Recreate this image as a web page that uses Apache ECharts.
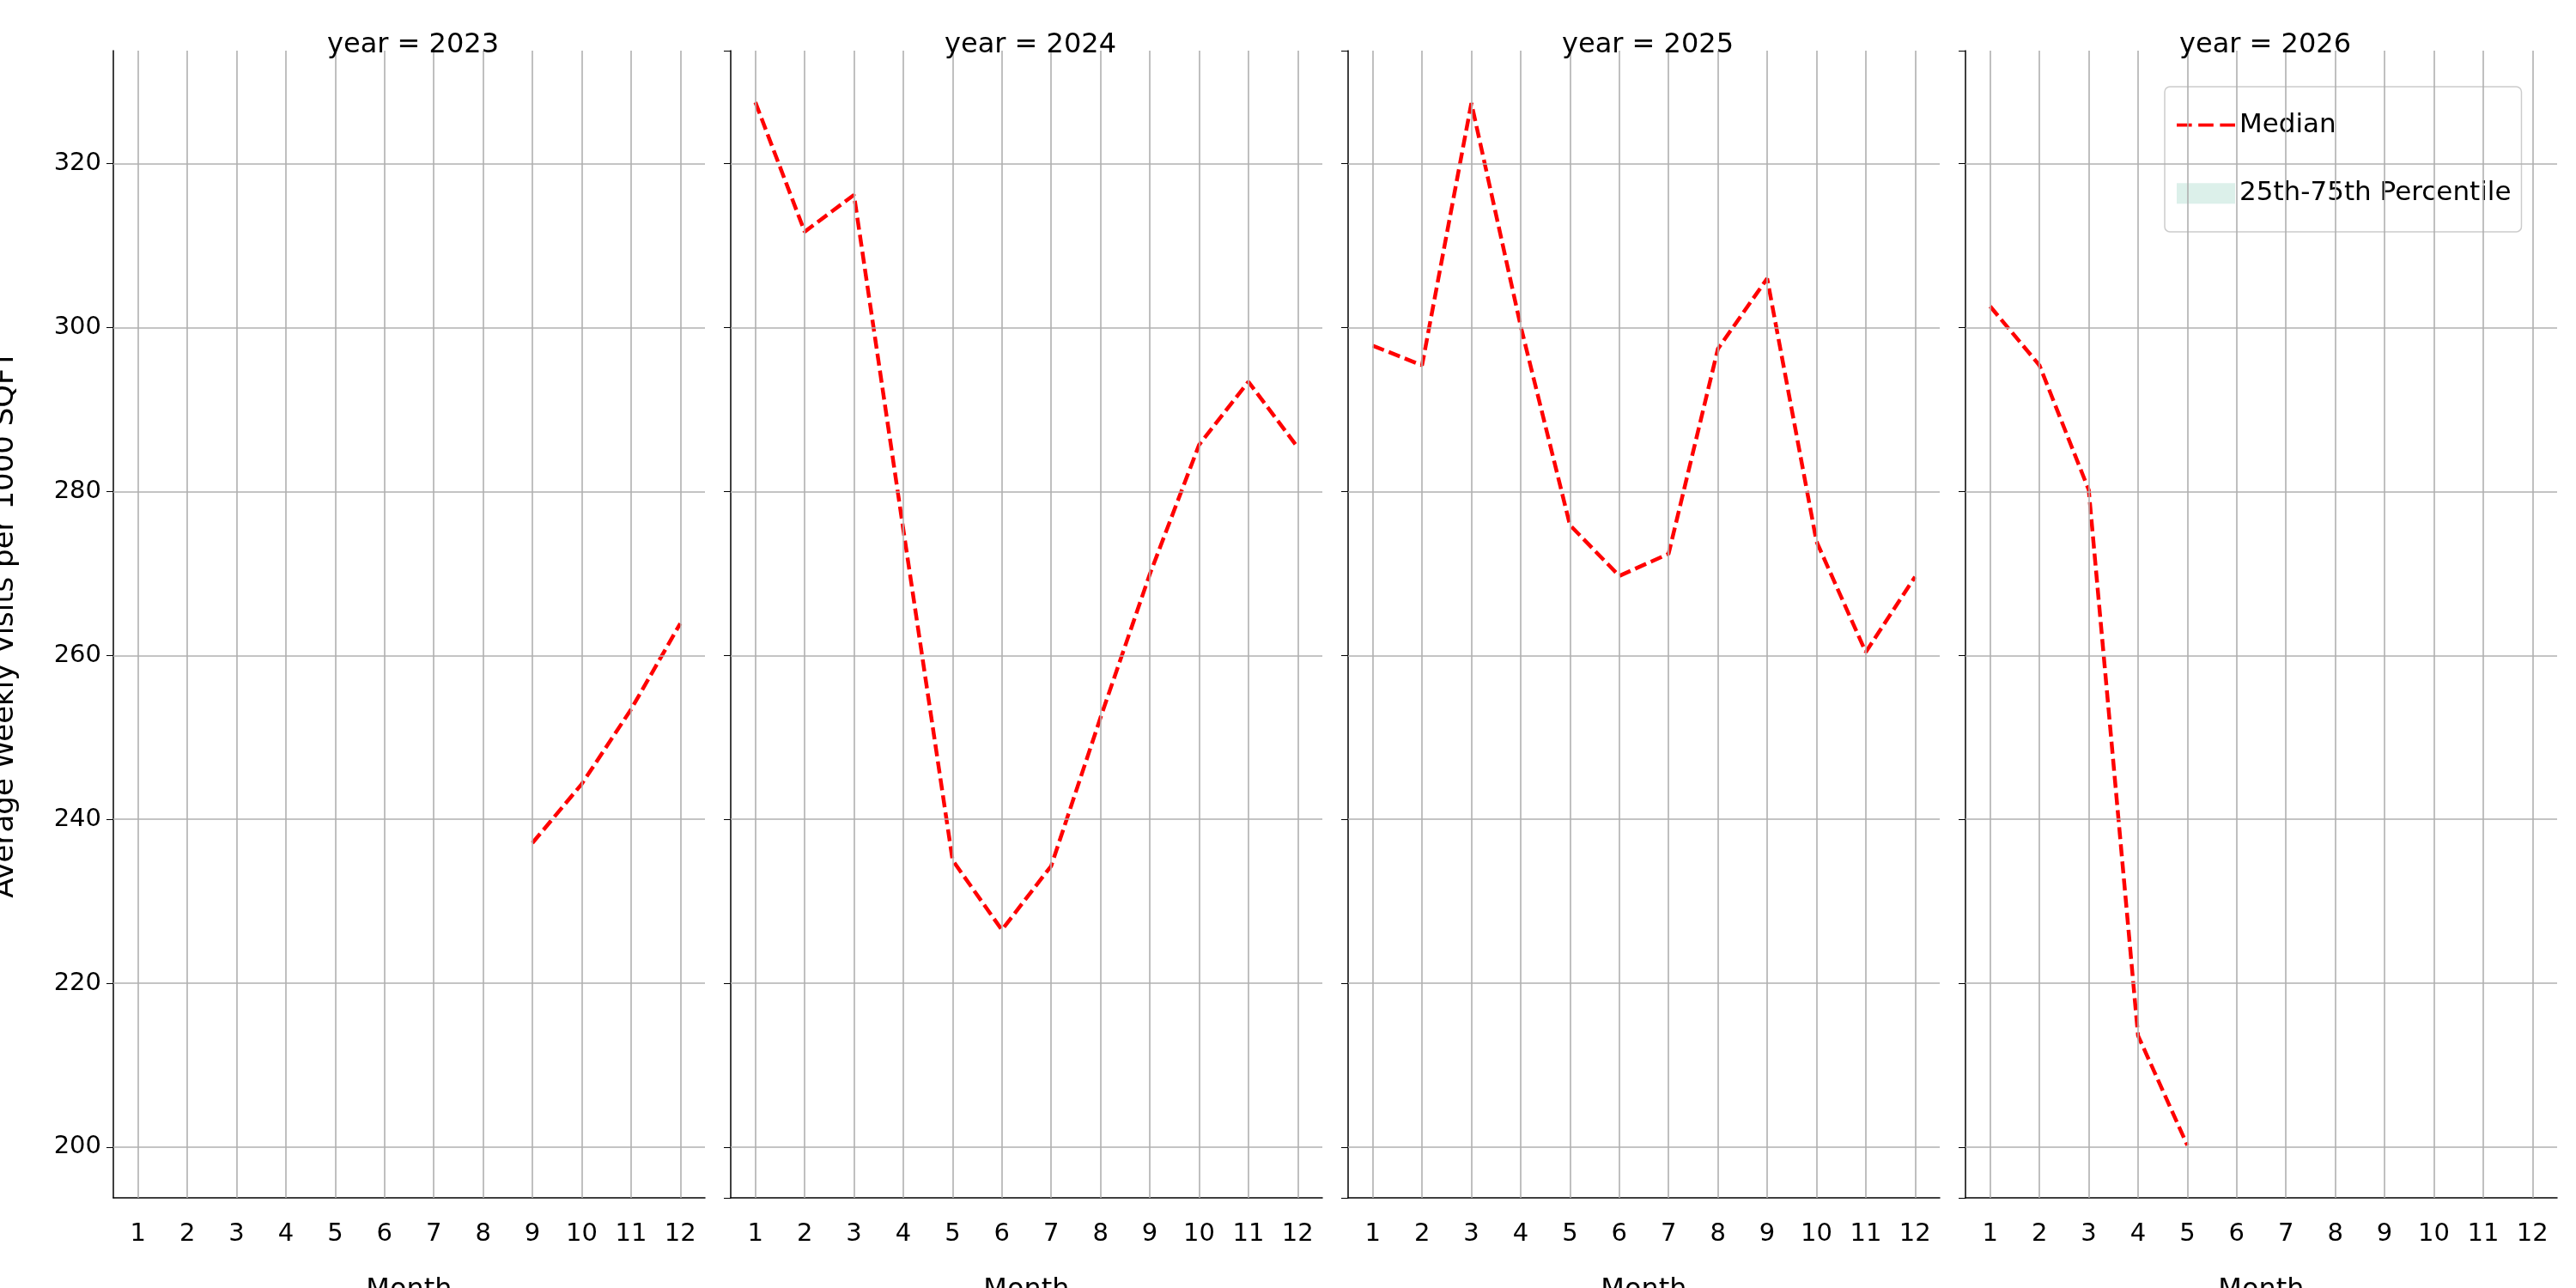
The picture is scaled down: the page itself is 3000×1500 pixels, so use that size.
<html>
<head>
    <script src="https://cdn.jsdelivr.net/npm/echarts@6/dist/echarts.min.js"></script>
    <style>
        body { margin: 0 }
        #chart { width: 3000px; height: 1500px; }
    </style>
</head>
<body>
    <div id="chart"></div>
    <script>
        const years = ['2023', '2024', '2025', '2026'];
        const months = ['1', '2', '3', '4', '5', '6', '7', '8', '9', '10', '11', '12'];
        const yTicks = [200, 220, 240, 260, 280, 300, 320];

        const median2023 = [null, null, null, null, null, null, null, null, 237.1, 244.3, 253.4, 263.9];
        const median2024 = [327.5, 311.7, 316.2, 275.4, 235.0, 226.5, 234.3, 252.4, 269.9, 285.7, 293.4, 285.4];
        const median2025 = [297.8, 295.4, 327.4, 300.2, 275.9, 269.7, 272.4, 297.4, 306.0, 273.9, 260.4, 269.6];
        const median2026 = [302.6, 295.4, 280.2, 213.6, 200.2, null, null, null, null, null, null, null];
        const medians = [median2023, median2024, median2025, median2026];

        const chart = echarts.init(document.getElementById('chart'));
        const font = 'DejaVu Sans';
        const gridColor = '#b0b0b0';

        const grids = [], xAxes = [], yAxes = [], series = [], titles = [];
        years.forEach((yr, i) => {
            const left = 132 + i * 719;
            grids.push({
                left: left, width: 689, top: 59, bottom: 105,
                containLabel: false, outerBoundsMode: 'none'
            });
            titles.push({
                text: 'year = ' + yr, left: left + 344, top: 16, textAlign: 'center',
                textStyle: { fontFamily: font, fontSize: 32, fontWeight: 'normal', color: '#000' }
            });
            xAxes.push({
                gridIndex: i, type: 'category', data: months, boundaryGap: true,
                name: 'Month', nameLocation: 'middle', nameGap: 66,
                nameTextStyle: { fontFamily: font, fontSize: 32, color: '#000' },
                axisLine: { lineStyle: { color: '#000', width: 1.5 } },
                axisTick: { alignWithLabel: true, length: 8, lineStyle: { color: '#000' } },
                axisLabel: { fontFamily: font, fontSize: 29, color: '#000', margin: 14 },
                splitLine: { show: false }
            });
            yAxes.push({
                gridIndex: i, type: 'value', min: 193.8, max: 333.8, splitNumber: 7,
                name: i === 0 ? 'Average Weekly Visits per 1000 SQFT' : '',
                nameLocation: 'middle', nameGap: 92,
                nameTextStyle: { fontFamily: font, fontSize: 34, color: '#000' },
                axisLine: { show: true, lineStyle: { color: '#000', width: 1.5 } },
                axisTick: { show: true, length: 8, lineStyle: { color: '#000' } },
                axisLabel: {
                    show: i === 0, fontFamily: font, fontSize: 29, color: '#000', margin: 14,
                    showMinLabel: false, showMaxLabel: false,
                    formatter: v => (v % 20 === 0 ? String(v) : '')
                },
                splitLine: { show: false }
            });
            // grid lines
            series.push({
                type: 'line', xAxisIndex: i, yAxisIndex: i, data: [], z: 1, silent: true,
                markLine: {
                    silent: true, symbol: 'none', label: { show: false },
                    lineStyle: { color: gridColor, width: 1.6, type: 'solid' },
                    data: months.map(m => ({ xAxis: m })).concat(yTicks.map(v => ({ yAxis: v })))
                }
            });
            series.push({
                name: 'Median', type: 'line', xAxisIndex: i, yAxisIndex: i, z: 3,
                data: medians[i], symbol: 'none', connectNulls: false,
                lineStyle: { color: '#ff0000', width: 4.5, type: [14, 6] },
                itemStyle: { color: '#ff0000' }
            });
        });
        series.push({
            name: '25th-75th Percentile', type: 'line', xAxisIndex: 3, yAxisIndex: 3, data: [],
            symbol: 'none', itemStyle: { color: '#dcf0ea' }, lineStyle: { width: 0 },
            areaStyle: { color: '#dcf0ea' }
        });

        chart.setOption({
            animation: false,
            backgroundColor: '#fff',
            title: titles,
            grid: grids,
            xAxis: xAxes,
            yAxis: yAxes,
            legend: {
                orient: 'vertical', left: 2521, top: 101,
                backgroundColor: '#fff', borderColor: '#cccccc', borderWidth: 1.5, borderRadius: 6,
                padding: [14, 12, 14, 14], itemGap: 18, itemWidth: 68, itemHeight: 24,
                textStyle: { fontFamily: font, fontSize: 31, color: '#000' },
                data: [
                    { name: 'Median', icon: 'path://M0,0 L14,0 L14,3 L0,3 Z M20,0 L34,0 L34,3 L20,3 Z M40,0 L54,0 L54,3 L40,3 Z', itemStyle: { color: '#ff0000' } },
                    { name: '25th-75th Percentile', icon: 'rect', itemStyle: { color: '#dcf0ea' } }
                ]
            },
            series: series
        });
    </script>
</body>
</html>
